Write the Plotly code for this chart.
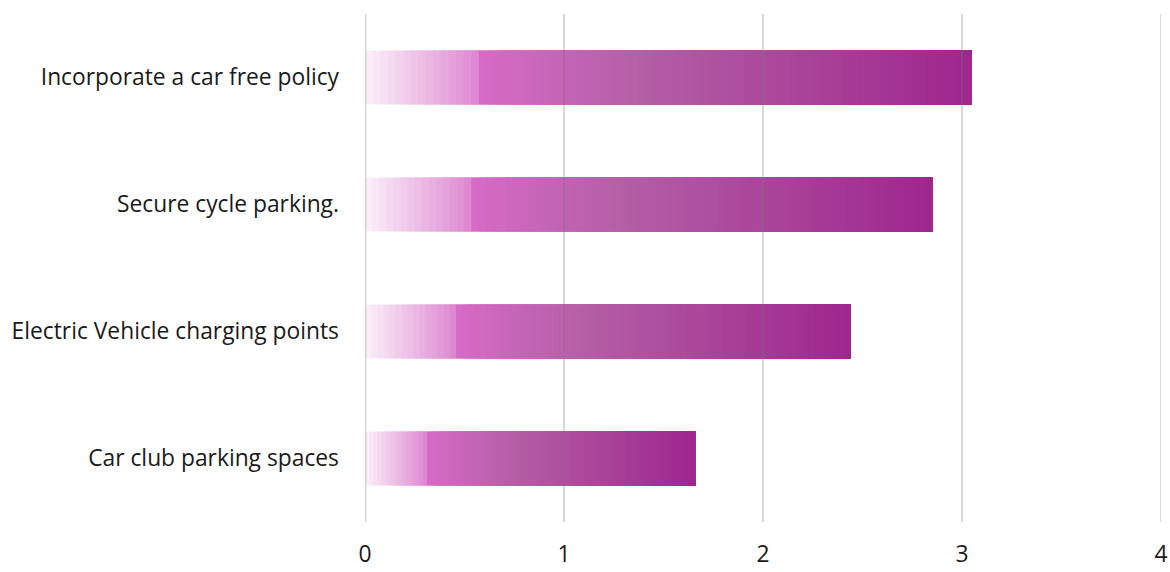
import plotly.graph_objects as go

categories = ["Incorporate a car free policy", "Secure cycle parking.",
              "Electric Vehicle charging points", "Car club parking spaces"]
values = [3.05, 2.85, 2.44, 1.66]
x_ticks = [0, 1, 2, 3, 4]

# gradient stops (fraction of bar length, rgb)
stops = [
    (0.00, (252, 242, 250)),
    (0.18, (222, 140, 210)),
    (0.19, (214, 107, 200)),
    (0.45, (180, 95, 165)),
    (1.00, (158, 38, 142)),
]


def grad(t):
    for (t0, c0), (t1, c1) in zip(stops[:-1], stops[1:]):
        if t0 <= t <= t1:
            f = 0 if t1 == t0 else (t - t0) / (t1 - t0)
            return "rgb(%d,%d,%d)" % tuple(round(a + (b - a) * f) for a, b in zip(c0, c1))
    return "rgb(%d,%d,%d)" % stops[-1][1]


N = 80
fig = go.Figure()
for k in range(N):
    frac = k / N
    fig.add_trace(go.Bar(
        y=categories,
        x=[v * (1 - frac) for v in values],
        base=[v * frac for v in values],
        orientation="h",
        width=0.42,
        marker=dict(color=grad((k + 0.5) / N), line=dict(width=0)),
        hoverinfo="skip",
        showlegend=False,
    ))

# gridlines drawn above the bars, as in the reference
for t in x_ticks:
    if t == 0:
        fig.add_vline(x=t, line=dict(color="rgba(200,200,200,0.7)", width=3), layer="above")
    else:
        fig.add_vline(x=t, line=dict(color="rgba(120,120,120,0.38)", width=1.5), layer="above")

fig.update_layout(
    barmode="overlay",
    width=1170, height=572,
    margin=dict(l=365, r=9, t=14, b=50, autoexpand=False),
    paper_bgcolor="white", plot_bgcolor="white",
    font=dict(family="Open Sans, Noto Sans, sans-serif", size=22.8, color="#1a1a1a"),
    xaxis=dict(range=[0, 4], tickvals=x_ticks, showgrid=False, zeroline=False,
               showline=False, ticklabelstandoff=16, fixedrange=True),
    yaxis=dict(autorange="reversed", showgrid=False, zeroline=False, showline=False,
               ticklabelstandoff=25, fixedrange=True),
)

fig.write_html("out.html", config={"displayModeBar": False},
               post_script="document.body.style.margin='0';document.body.style.overflow='hidden';")
